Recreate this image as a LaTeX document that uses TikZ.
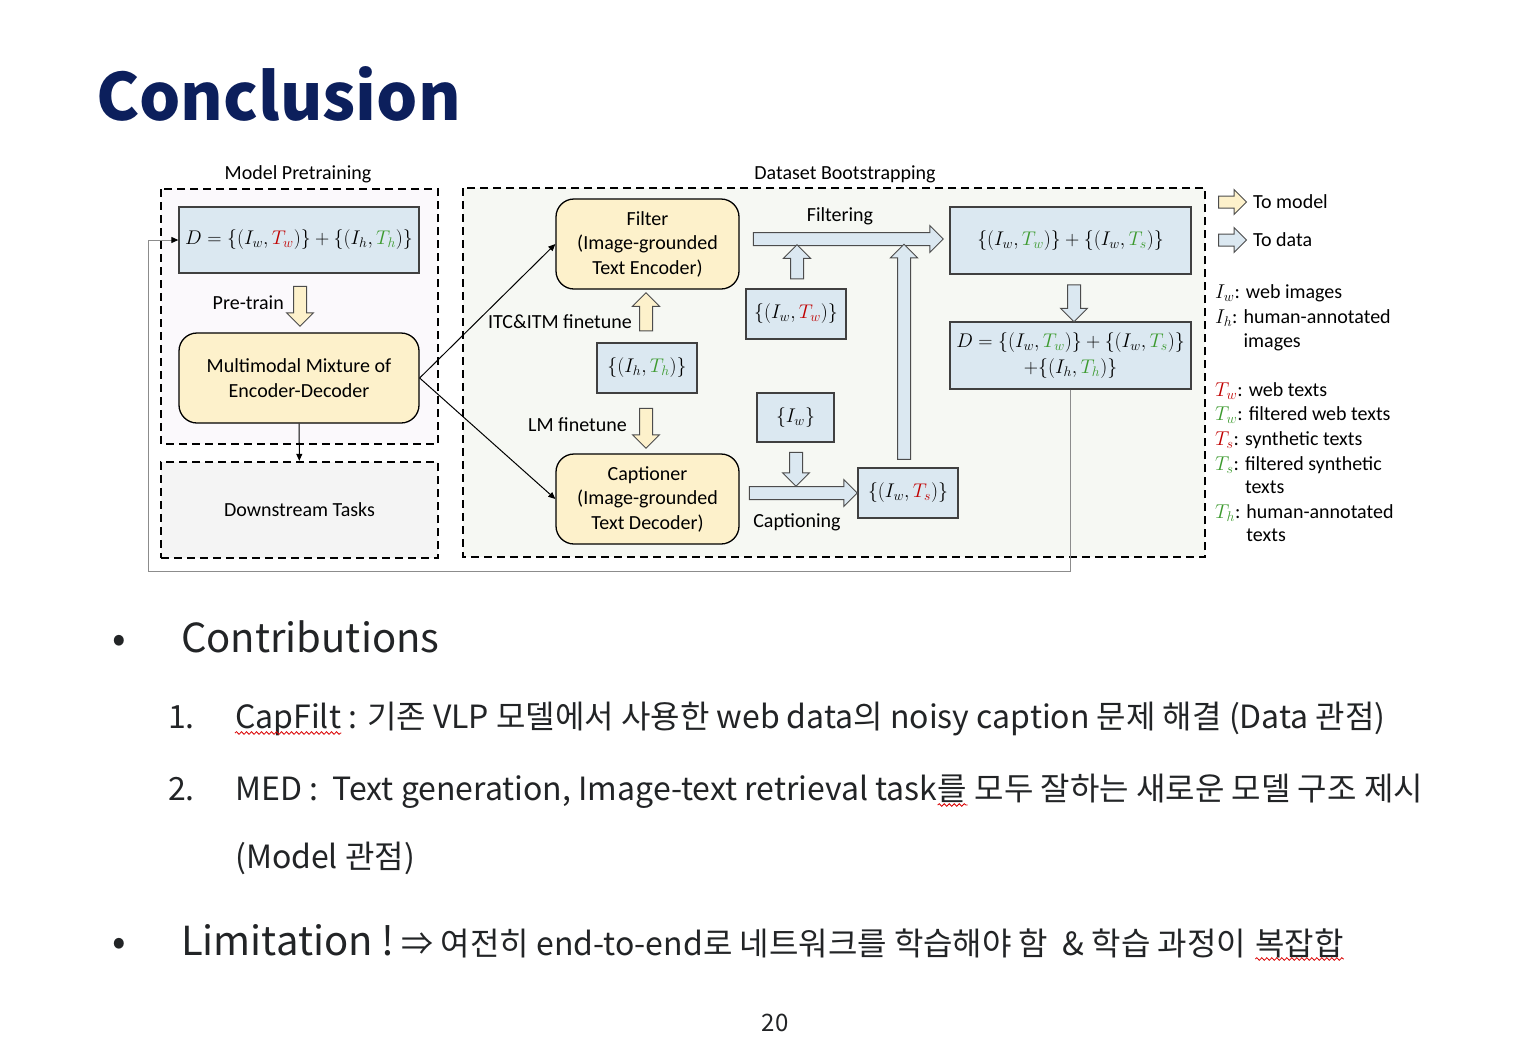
\documentclass[tikz,border=0pt]{standalone}
\usepackage{fix-cm}
\usepackage{amsmath}
\usepackage{fontspec}
\usepackage{tikz}
\usetikzlibrary{shapes,arrows}
\usetikzlibrary{arrows.meta,decorations.pathmorphing}
\setmainfont{Carlito}
\newfontfamily\krfont{Noto Sans CJK KR}
\definecolor{navy}{HTML}{0C1F5C}
\definecolor{datfill}{HTML}{DBE8F1}
\definecolor{modfill}{HTML}{FDF1CB}
\definecolor{twred}{HTML}{C00000}
\definecolor{thgreen}{HTML}{3C9A2E}
\definecolor{pretfill}{HTML}{FBF9FC}
\definecolor{bootfill}{HTML}{F6F8F3}
\definecolor{downfill}{HTML}{F4F4F4}
\definecolor{bodytext}{HTML}{222426}
\newcommand{\Twred}{{\color{twred}T_w}}
\newcommand{\Tsred}{{\color{twred}T_s}}
\newcommand{\Twgrn}{{\color{thgreen}T_w}}
\newcommand{\Tsgrn}{{\color{thgreen}T_s}}
\newcommand{\Thgrn}{{\color{thgreen}T_h}}
\newcommand{\diasize}{\fontsize{20}{24.5}\selectfont}
\newcommand{\mathsize}{\fontsize{19.8}{26}\selectfont}
\newcommand{\bodysize}{\krfont\fontsize{32}{38}\selectfont}
\newcommand{\headsize}{\krfont\fontsize{40}{48}\selectfont}
\tikzset{
	datbox/.style   = {draw=black!75, line width=1.3pt, fill=datfill, rectangle,
		inner sep=0pt, align=center, font=\mathsize},
	modbox/.style   = {draw=black, line width=1.3pt, fill=modfill, rectangle,
		rounded corners=18pt, inner sep=0pt, align=center},
	dashbox/.style  = {draw=black, line width=2.4pt, dash pattern=on 8pt off 5pt},
	modarrow/.style = {single arrow, draw=black!70, line width=1pt, fill=modfill,
		inner xsep=0pt, inner ysep=6pt, single arrow head extend=7pt},
	datarrow/.style = {single arrow, draw=black!70, line width=1pt, fill=datfill,
		inner xsep=0pt, inner ysep=6pt, single arrow head extend=7pt},
	lgarrow/.style  = {inner ysep=5.5pt, single arrow head extend=6.5pt, minimum height=28},
	lgd/.style      = {anchor=base west, inner sep=0pt, align=left},
	body/.style     = {anchor=base west, inner sep=0pt, text=bodytext},
	squiggle/.style = {draw=red!85!black, line width=0.8pt, decorate,
		decoration={snake, amplitude=1.3pt, segment length=5pt}},
}
\begin{document}
\begin{tikzpicture}[ x=1pt, y=-1pt,                  %<--pixel grid, y downwards
					every node/.style={font=\diasize}, %<--diagram text
					>={Triangle[length=7pt,width=6pt]} ] %<--sets the arrowtype

	\useasboundingbox (0,0) rectangle (1528,1042);

	%Drawing the dashed frames:
	\draw[dashbox, fill=pretfill] (161,189) rectangle (438,444);
	\draw[dashbox, fill=bootfill] (463,188) rectangle (1205,557);

	\draw%-----------------------------------------------------------------------------------------
	%Drawing the frame titles:
	node(pretitle) at (298,174) {Model Pretraining}
	node(boottitle) at (845,174) {Dataset Bootstrapping}
	%Drawing the Model Blocks:
	node(med) at (299,378) [modbox, minimum width=240, minimum height=90] {Multimodal Mixture of\\Encoder-Decoder}
	node(filter) at (647.5,244) [modbox, minimum width=183, minimum height=90] {Filter\\(Image-grounded\\Text Encoder)}
	node(capt) at (647.5,499) [modbox, minimum width=183, minimum height=90] {Captioner\\(Image-grounded\\Text Decoder)}
	node(down) at (299.5,510) [dashbox, fill=downfill, minimum width=277, minimum height=96] {Downstream Tasks}
	%Drawing the Data Blocks:
	node(dpre) at (299,240) [datbox, minimum width=240, minimum height=66] {$D=\{(I_w,\Twred)\}+\{(I_h,\Thgrn)\}$}
	node(ihth) at (647,368) [datbox, minimum width=100, minimum height=50] {$\{(I_h,\Thgrn)\}$}
	node(iwtw) at (796,314) [datbox, minimum width=100, minimum height=50] {$\{(I_w,\Twred)\}$}
	node(iw) at (795.5,417.5) [datbox, minimum width=77, minimum height=49] {$\{I_w\}$}
	node(iwts) at (908,493) [datbox, minimum width=100, minimum height=50] {$\{(I_w,\Tsred)\}$}
	node(clean) at (1070.5,240.5) [datbox, minimum width=241, minimum height=67] {$\{(I_w,\Twgrn)\}+\{(I_w,\Tsgrn)\}$}
	node(dnew) at (1070.5,355.5) [datbox, minimum width=241, minimum height=67] {$D=\{(I_w,\Twgrn)\}+\{(I_w,\Tsgrn)\}$\\[0pt]$+\{(I_h,\Thgrn)\}$}
	%Drawing the block arrows:
	node(pretrain) at (300,303) [modarrow, rotate=-90, minimum height=40] {}
	node(itcitm) at (646,315) [modarrow, rotate=90, minimum height=38] {}
	node(lmft) at (646,425) [modarrow, rotate=-90, minimum height=40] {}
	node(filtering) at (845,239) [datarrow, minimum height=190] {}
	node(upsmall) at (797,265) [datarrow, rotate=90, minimum height=34] {}
	node(uplong) at (904,355) [datarrow, rotate=90, minimum height=215] {}
	node(downclean) at (1074,300) [datarrow, rotate=-90, minimum height=37] {}
	node(downiw) at (796,466) [datarrow, rotate=-90, minimum height=34] {}
	node(captioning) at (800,493) [datarrow, minimum height=108] {}
	%Drawing the arrow labels:
	node(pretrainlbl) at (284,303) [anchor=east, inner sep=0pt] {Pre-train}
	node(itclbl) at (632,322) [anchor=east, inner sep=0pt] {ITC\&ITM finetune}
	node(lmlbl) at (627,425) [anchor=east, inner sep=0pt] {LM finetune}
	node(filterlbl) at (840,216) {Filtering}
	node(captlbl) at (797,522) {Captioning}
	%Drawing the Feedback Node:
	node[shape=coordinate][](fbcorner) at (148,571){}
	;%---------------------------------------------------------------------------------------------

	%Joining the Blocks
	\draw[->, line width=1pt] (med.east) -- (filter.west);
	\draw[->, line width=1pt] (med.east) -- (capt.west);
	\draw[->, line width=1pt] (med) -- (down);
	\draw[-{Triangle[length=7pt,width=6pt,color=black]}, draw=black!45, line width=1pt] (dnew.south) |- (fbcorner) |- (dpre.west);

	%Drawing the legend
	\draw%--------------------------------------------------------------
	node(lgmodel) at (1229.5,202) [modarrow, lgarrow] {}
	node(lgdata) at (1229.5,240) [datarrow, lgarrow] {}
	node(lgmodeltxt) at (1253,208) [lgd] {To model}
	node(lgdatatxt) at (1253,246) [lgd] {To data}
	node(lgiw) at (1215,298) [lgd] {$I_w$: web images}
	node(lgih) at (1215,323) [lgd] {$I_h$: \begin{tabular}[t]{@{}l@{}}human-annotated\\[0pt]images\end{tabular}}
	node(lgtw) at (1215,396) [lgd] {$\Twred$: web texts}
	node(lgtwf) at (1215,420) [lgd] {$\Twgrn$: filtered web texts}
	node(lgts) at (1215,445) [lgd] {$\Tsred$: synthetic texts}
	node(lgtsf) at (1215,470) [lgd] {$\Tsgrn$: \begin{tabular}[t]{@{}l@{}}filtered synthetic\\[-1pt]texts\end{tabular}}
	node(lgth) at (1215,518) [lgd] {$\Thgrn$: \begin{tabular}[t]{@{}l@{}}human-annotated\\[-1pt]texts\end{tabular}}
	;%------------------------------------------------------------------

	%Drawing the slide text
	\draw%--------------------------------------------------------------
	node(title) at (96,94) [anchor=west, inner sep=0pt, text=navy] {\krfont\fontsize{65}{78}\selectfont\bfseries Conclusion}
	node(bul1) at (112,652) [body] {\headsize •}
	node(contrib) at (181,652) [body] {\headsize Contributions}
	node(num1) at (168,728) [body] {\bodysize 1.}
	node(capfilt) at (235,728) [body] {\bodysize CapFilt}
	node(item1) at (capfilt.base east) [body] {\bodysize\ : 기존 VLP 모델에서 사용한 web data의 noisy caption 문제 해결 (Data 관점)}
	node(num2) at (168,800) [body] {\bodysize 2.}
	node(item2) at (235,800) [body] {\bodysize MED :\ \ Text generation, Image-text retrieval task}
	node(rul) at (item2.base east) [body] {\bodysize 를}
	node(item2c) at (rul.base east) [body] {\bodysize\ 모두 잘하는 새로운 모델 구조 제시}
	node(item2b) at (235,868) [body] {\bodysize (Model 관점)}
	node(bul2) at (112,955) [body] {\headsize •}
	node(limit) at (181,955) [body] {\headsize Limitation !\bodysize\ ⇒ 여전히 end-to-end로 네트워크를 학습해야 함\ \ \& 학습 과정이}
	node(complex) at ([xshift=9pt]limit.base east) [body] {\bodysize 복잡합}
	node(pagenum) at (775,1023) [text=bodytext] {\krfont\fontsize{24}{28}\selectfont 20}
	;%------------------------------------------------------------------

	%Spell-check marks
	\draw[squiggle] ([yshift=-5pt]capfilt.base west) -- ([yshift=-5pt]capfilt.base east);
	\draw[squiggle] ([yshift=-5pt]rul.base west) -- ([yshift=-5pt]rul.base east);
	\draw[squiggle] ([yshift=-4pt]complex.base west) -- ([yshift=-4pt]complex.base east);

\end{tikzpicture}
\end{document}
